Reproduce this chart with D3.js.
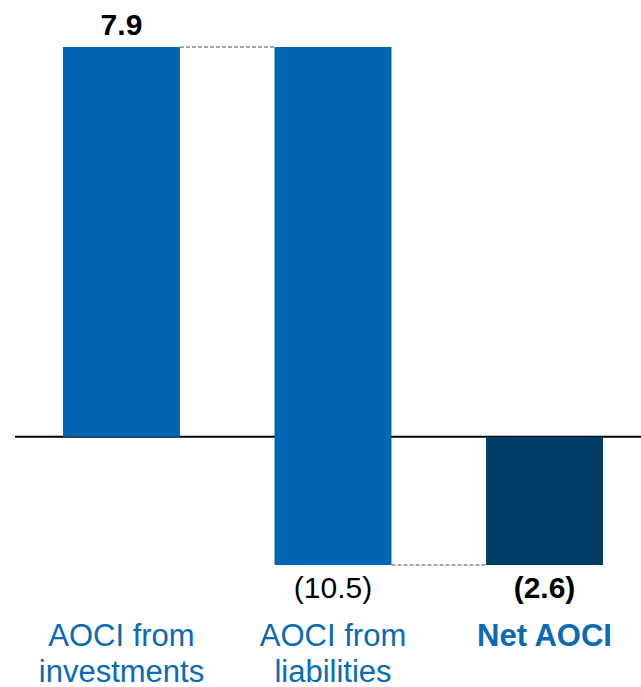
<!DOCTYPE html>
<html>
<head>
<meta charset="utf-8">
<script src="https://cdn.jsdelivr.net/npm/d3@7"></script>
<style>
  body { margin: 0; background: #fff; }
  text { font-family: "Liberation Sans", Arial, sans-serif; }
</style>
</head>
<body>
<div id="chart"></div>
<script>
// waterfall data
var categories = [["AOCI from", "investments"], ["AOCI from", "liabilities"], ["Net AOCI"]];
var values = [7.9, -10.5, -2.6];
var isTotal = [false, false, true];
var valueLabels = ["7.9", "(10.5)", "(2.6)"];

var width = 641, height = 687;

var svg = d3.select("#chart").append("svg")
    .attr("width", width)
    .attr("height", height);

// build start/end for each bar
var running = 0;
var bars = values.map(function(v, i) {
    var start = isTotal[i] ? 0 : running;
    var end = isTotal[i] ? v : running + v;
    running = end;
    return {key: i, start: start, end: end, total: isTotal[i], label: valueLabels[i], cat: categories[i]};
});

var x = d3.scaleBand()
    .domain(d3.range(values.length))
    .range([63, 603])
    .paddingInner(0.447)
    .paddingOuter(0);

var y = d3.scaleLinear()
    .domain([-2.6, 7.9])
    .range([565, 47]);

// zero line
svg.append("line")
    .attr("x1", 15).attr("x2", width)
    .attr("y1", y(0)).attr("y2", y(0))
    .attr("stroke", "#000")
    .attr("stroke-width", 2);

// connectors
for (var i = 0; i < bars.length - 1; i++) {
    svg.append("line")
        .attr("x1", x(i) + x.bandwidth())
        .attr("x2", x(i + 1))
        .attr("y1", y(bars[i].end))
        .attr("y2", y(bars[i].end))
        .attr("stroke", "#8a8a8a")
        .attr("stroke-width", 1.3)
        .attr("stroke-dasharray", "4,2");
}

svg.selectAll("rect.bar")
    .data(bars)
    .enter().append("rect")
    .attr("class", "bar")
    .attr("x", function(d) { return x(d.key); })
    .attr("width", x.bandwidth())
    .attr("y", function(d) { return y(Math.max(d.start, d.end)); })
    .attr("height", function(d) { return Math.abs(y(d.start) - y(d.end)); })
    .attr("fill", function(d) { return d.total ? "#003c66" : "#0066b3"; });

// value labels
svg.selectAll("text.val")
    .data(bars)
    .enter().append("text")
    .attr("class", "val")
    .attr("x", function(d) { return x(d.key) + x.bandwidth() / 2; })
    .attr("y", function(d) {
        return d.end >= d.start ? y(d.end) - 12 : y(d.end) + 33;
    })
    .attr("text-anchor", "middle")
    .attr("font-size", "30px")
    .attr("font-weight", function(d) { return d.key === 1 ? "normal" : "bold"; })
    .attr("fill", "#000")
    .text(function(d) { return d.label; });

// category labels
var cat = svg.selectAll("g.cat")
    .data(bars)
    .enter().append("g")
    .attr("class", "cat")
    .attr("transform", function(d) { return "translate(" + (x(d.key) + x.bandwidth() / 2) + ",0)"; });

cat.selectAll("text")
    .data(function(d) { return d.cat.map(function(t) { return {t: t, total: d.total}; }); })
    .enter().append("text")
    .attr("x", 0)
    .attr("y", function(d, i) { return 646 + i * 36; })
    .attr("text-anchor", "middle")
    .attr("font-size", "31px")
    .attr("font-weight", function(d) { return d.total ? "bold" : "normal"; })
    .attr("fill", "#0a6ab4")
    .text(function(d) { return d.t; });
</script>
</body>
</html>
